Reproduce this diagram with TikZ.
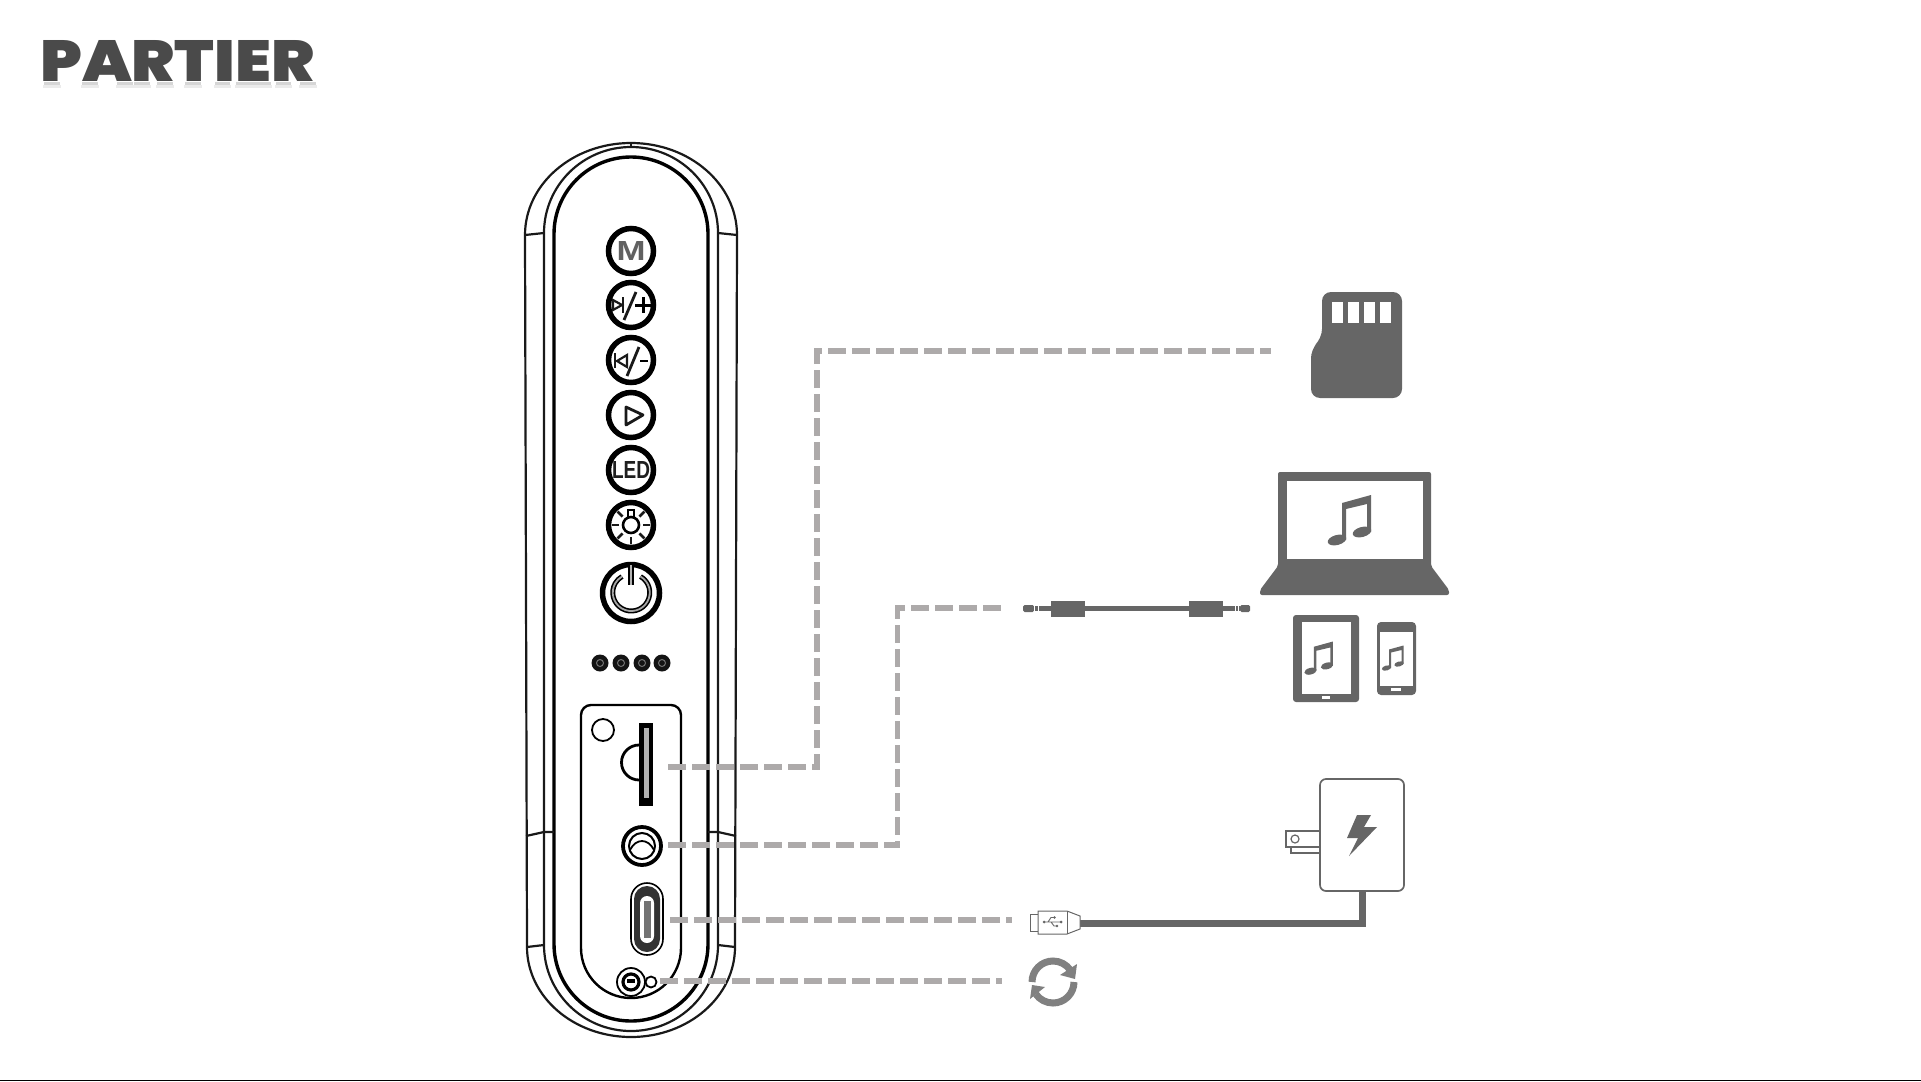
\documentclass[tikz,border=0pt]{standalone}
\usepackage{fontspec}
\newfontfamily\titlefont{Poppins}[UprightFont=*-Black]
\newfontfamily\labelfont{Liberation Sans}[Scale=1]
\usetikzlibrary{calc}
\definecolor{icongray}{HTML}{666666}
\definecolor{leadergray}{HTML}{ADAAAA}
\definecolor{titlegray}{HTML}{4A4A4A}
\tikzset{
	leader/.style={line width=5.6pt, color=leadergray, dash pattern=on 18pt off 6pt},
	bodyline/.style={line width=2.2pt, color=black!90},
	keyring/.style={line width=5.5pt, color=black, fill=white},
	keyglyph/.style={line width=2.8pt, color=black!90},
	icon/.style={fill=icongray, draw=none},
}
% one note, drawn round its own middle
\def\musicnote(#1,#2,#3){
	\begin{scope}[shift={(#1,#2)},scale=#3]
		\fill[icongray] (-14,-17) -- (15,-25) -- (15,12) -- (11,12) -- (11,-16) -- (-10,-11) -- (-10,20) -- (-14,20) -- cycle;
		\fill[icongray,rotate around={15:(-19,20)}] (-19,20) ellipse (9.5 and 5);
		\fill[icongray,rotate around={15:(6,12)}] (6,12) ellipse (9.5 and 5);
	\end{scope}
}

\begin{document}
\begin{tikzpicture}[x=1pt,y=-1pt]
		%%%%% START %%%%%
		\useasboundingbox (0,0) rectangle (1921,1081);

		% title
		\foreach \xa/\xb in {42/57,80/95,115/130,132/147,155/170,183/198,213/227,234/268,274/288,298/313}{
			\fill[black!16] (\xa+2,82) rectangle (\xb+3,85);
			\fill[black!8] (\xa+1,85) rectangle (\xb+4,88);
		}
		\node[anchor=south west, inner sep=0pt, text=titlegray] (title) at (40,82) {\resizebox{274pt}{41pt}{\titlefont PARTIER}};
		\draw[line width=1.4pt, color=black] (0,1080.4) -- (1921,1080.4);

		% speaker body
		\draw[bodyline] (525,235) arc (180:360:106 and 92) -- (735,947) arc (0:180:104 and 90) -- cycle;
		\draw[bodyline] (544,233) arc (180:360:87 and 86) -- (718,945) arc (0:180:87 and 86) -- cycle;
		\draw[line width=3.4pt] (554,234) arc (180:360:77) -- (708,944) arc (0:180:77) -- cycle;
		\draw[bodyline] (631,143) -- (631,147);
		\draw[bodyline] (525,235) -- (544,233) (718,233) -- (737,235);
		\draw[bodyline] (526,836) -- (544,832) -- (554,832) (708,832) -- (718,832) -- (736,836);
		\draw[bodyline] (527,947) -- (544,945) (718,945) -- (735,947);

		% keys
		\foreach \ky in {251,305,360,415,470,525}
			\draw[keyring] (631,\ky) circle (22.5);
		\draw[keyring] (631,593) circle (28.5);

		\node[inner sep=0pt, text=black!62] (keym) at (631,251) {\resizebox{29pt}{19pt}{\labelfont\bfseries M}};

		\draw[keyglyph,line width=2.2pt] (613,300) -- (613,310) -- (622,305) -- cycle;
		\draw[keyglyph] (623,297) -- (623,313);
		\draw[keyglyph] (624,320) -- (636,292);
		\draw[line width=3pt] (635,305) -- (651,305) (643,297) -- (643,313);

		\draw[keyglyph] (615,353) -- (615,368);
		\draw[keyglyph,line width=2.2pt] (627,355) -- (627,367) -- (617,361) -- cycle;
		\draw[keyglyph] (627,376) -- (639,347);
		\draw[line width=2.8pt] (640,361) -- (648,361);

		\draw[keyglyph,line join=round] (626,407) -- (626,425) -- (643,415) -- cycle;

		\node[inner sep=0pt, text=black!88] (keyled) at (631,470) {\resizebox{38pt}{17pt}{\labelfont\bfseries LED}};

		\draw[line width=2.6pt] (631,525) circle (8);
		\foreach \ang in {45,90,135,180,225,315,360}
			\draw[keyglyph] ($(631,525)+(\ang:12)$) -- ($(631,525)+(\ang:19)$);
		\draw[line width=2.6pt] (628,510) rectangle (634,517);

		\draw[line width=1.6pt, double=black!35, double distance=1.8pt] (640.5,576.5) arc (-60:240:18.5);
		\draw[line width=1.4pt, double=black!30, double distance=2.6pt] (631,565) -- (631,585);

		% indicator dots
		\foreach \dx in {600,621,642,662}{
			\fill[black!92] (\dx,663) circle (8.5);
			\draw[line width=1pt, color=black!55] (\dx,663) circle (3.5);
		}

		% port panel
		\draw[line width=2.4pt] (581,948) -- (581,715) arc (180:270:10) -- (671,705) arc (270:360:10) -- (681,948) arc (0:180:50);
		\draw[line width=1.8pt] (603,730) circle (11);

		% card slot
		\draw[line width=2.8pt] (639,745) arc (-90:-270:17.5);
		\fill[black] (639,723) rectangle (653,806);
		\fill[white!70!black] (643.5,728) rectangle (648.5,798);

		% audio jack
		\draw[line width=3.8pt] (642,846) circle (19);
		\draw[line width=2pt] (642,846) circle (13);
		\draw[line width=1.8pt] (630,850) .. controls (636,838) and (648,838) .. (654,850);

		% usb-c
		\draw[line width=1.6pt, fill=white] (631,899) arc (180:360:16) -- (663,939) arc (0:180:16) -- cycle;
		\fill[black!80] (634,899) arc (180:360:13) -- (660,939) arc (0:180:13) -- cycle;
		\fill[white] (640,903) arc (180:360:7) -- (654,936) arc (0:180:7) -- cycle;
		\fill[black!55] (643.5,901) rectangle (650.5,938);

		% reset
		\draw[line width=1.8pt] (631,982) circle (14);
		\draw[line width=3.2pt] (631,982) circle (8);
		\fill[black] (627,979) rectangle (635,983);
		\draw[line width=1.8pt] (651,982) circle (5.5);

		% leaders
		\coordinate (slotport) at (668,767);
		\coordinate (sdbend) at (817,560);
		\coordinate (sdend) at (1271,351);
		\coordinate (jackport) at (668,845);
		\coordinate (jackbend) at (897.5,730);
		\coordinate (jackend) at (1002,608);
		\coordinate (usbport) at (670,920);
		\coordinate (usbend) at (1012,920);
		\coordinate (resetport) at (660,981);
		\coordinate (resetend) at (1002,981);
		\draw[leader] (slotport) -| (sdbend) |- (sdend);
		\draw[leader] (jackport) -| (jackbend) |- (jackend);
		\draw[leader] (usbport) -- (usbend);
		\draw[leader] (resetport) -- (resetend);

		% sd card
		\fill[icon,rounded corners=9pt] (1322,338) -- (1322,292) -- (1402,292) -- (1402,398) -- (1311,398) -- (1311,349) -- cycle;
		\foreach \cx in {1332,1348,1364,1380}
			\fill[white] (\cx,302) rectangle (\cx+11,323);

		% laptop
		\fill[icon,rounded corners=2pt] (1278,566) -- (1278,472) -- (1431,472) -- (1431,566) -- (1449,590) -- (1449,595) -- (1260,595) -- (1260,590) -- cycle;
		\fill[white] (1287,481) rectangle (1423,559);
		\musicnote(1356,520,1)

		% aux cable
		\fill[icongray] (1051,601) rectangle (1085,617);
		\fill[icongray] (1189,601) rectangle (1223,617);
		\draw[line width=5.5pt, color=icongray] (1033,608.5) -- (1240,608.5);
		\fill[icongray,rounded corners=1.5pt] (1023,605) rectangle (1034,612);
		\fill[icongray,rounded corners=1.5pt] (1240,605) rectangle (1250,612);
		\foreach \gx in {1034,1037.5,1235,1238}
			\fill[white] (\gx,604) rectangle (\gx+1.4,613);

		% tablet
		\fill[icon,rounded corners=3pt] (1293,615) rectangle (1359,702);
		\fill[white] (1302,622) rectangle (1351,694);
		\fill[white] (1322,696) rectangle (1330,698.5);
		\musicnote(1323,658,0.66)

		% phone
		\fill[icon,rounded corners=4pt] (1377,622) rectangle (1416,695);
		\fill[white] (1380,632) rectangle (1413,686);
		\fill[white] (1391,688) rectangle (1401,690.5);
		\musicnote(1396,658,0.5)

		% charger
		\draw[line width=2pt, color=icongray] (1291,847) rectangle (1320,853);
		\draw[line width=2pt, color=icongray, fill=white] (1285.5,831) rectangle (1320,847);
		\draw[line width=1.2pt, color=icongray] (1295,839) circle (4);
		\draw[line width=7pt, color=icongray] (1362,891) |- (1080,923);
		\draw[line width=1.7pt, color=icongray, fill=white, rounded corners=6pt] (1320,779) rectangle (1404,891);
		\fill[icon] (1357,815) -- (1371,815) -- (1364,827) -- (1377,827) -- (1349,856) -- (1358,838) -- (1347,838) -- cycle;

		% usb plug
		\draw[line width=1pt, color=icongray, fill=white] (1030,914) rectangle (1038,931);
		\draw[line width=1pt, color=icongray, fill=white] (1038,911) -- (1067,911) -- (1080,916) -- (1080,929) -- (1067,934) -- (1038,934) -- cycle;
		\draw[line width=1pt, color=icongray] (1067,911) -- (1067,934);
		\draw[line width=0.9pt, color=icongray] (1044,922) -- (1061,922) (1048,922) -- (1051,917.5) -- (1054,917.5) (1051,922) -- (1054,926) -- (1057,926);
		\fill[icongray] (1061,922) circle (1.5) (1044,922) circle (1.5) (1054.5,917.5) circle (1.3) (1057,926) circle (1.3);

		% reset arrows
		\draw[line width=7pt, color=black!50] (1032,982) arc (180:325:21);
		\draw[line width=7pt, color=black!50] (1074,982) arc (0:145:21);
		\fill[black!50] (1077,964) -- (1075,979) -- (1060,975) -- cycle;
		\fill[black!50] (1030,999) -- (1045,987) -- (1032,985) -- cycle;
		%%%%% END %%%%%
	\end{tikzpicture}
\end{document}
